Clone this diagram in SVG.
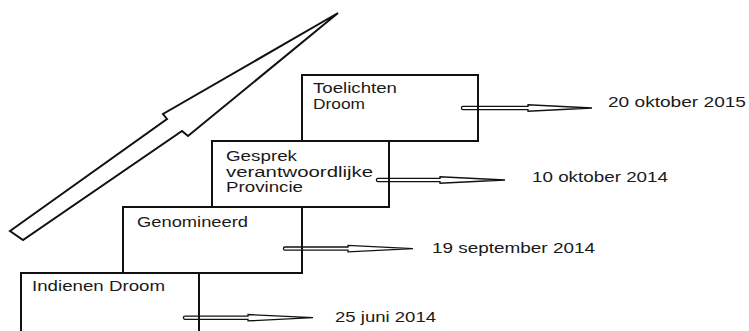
<svg xmlns="http://www.w3.org/2000/svg" width="749" height="331" viewBox="0 0 749 331">
<style>
text{font-family:"Liberation Sans",Arial,Helvetica,sans-serif;font-size:14px;fill:#1a1a1a}
.box{fill:none;stroke:#111;stroke-width:2}
.arr{fill:#fff;stroke:#111;stroke-width:1.3;stroke-linejoin:miter}
.big{fill:#fff;stroke:#111;stroke-width:2;stroke-linejoin:miter}
</style>
<rect width="749" height="331" fill="#fff"/>
<g id="big-arrow">
<path class="big" d="M10,231 L167,119 L163,114 L338,13 L188,136 L182,131 L23,240 Z"/>
</g>
<g id="connectors">
<path class="arr" d="M463,106.4 H528 V104.8 L592,108 L528,111.2 V109.6 H463 A1.6,1.6 0 0 1 463,106.4 Z"/>
<path class="arr" d="M378,178.4 H440 V176.8 L505,180 L440,183.2 V181.6 H378 A1.6,1.6 0 0 1 378,178.4 Z"/>
<path class="arr" d="M285,247 H348 V245.4 L413,248.6 L348,251.8 V250.2 H285 A1.6,1.6 0 0 1 285,247 Z"/>
<path class="arr" d="M185,316.1 H248 V314.5 L313,317.7 L248,320.9 V319.3 H185 A1.6,1.6 0 0 1 185,316.1 Z"/>
</g>
<g id="toelichten">
<rect class="box" x="302" y="75" width="176" height="66"/>
<text x="313" y="92.5" textLength="84" lengthAdjust="spacingAndGlyphs">Toelichten</text>
<text x="313" y="108.5" textLength="52" lengthAdjust="spacingAndGlyphs">Droom</text>
</g>
<g id="gesprek">
<rect class="box" x="212" y="141" width="177" height="66"/>
<text x="226" y="161" textLength="71" lengthAdjust="spacingAndGlyphs">Gesprek</text>
<text x="226" y="176.5" textLength="147" lengthAdjust="spacingAndGlyphs">verantwoordlijke</text>
<text x="226" y="192" textLength="77" lengthAdjust="spacingAndGlyphs">Provincie</text>
</g>
<g id="genomineerd">
<rect class="box" x="123" y="207" width="179" height="66"/>
<text x="137" y="226.5" textLength="111" lengthAdjust="spacingAndGlyphs">Genomineerd</text>
</g>
<g id="indienen">
<path class="box" d="M21,335 V273 H199 V335"/>
<text x="32" y="291" textLength="133" lengthAdjust="spacingAndGlyphs">Indienen Droom</text>
</g>
<g id="dates">
<text x="608" y="106.5" textLength="138" lengthAdjust="spacingAndGlyphs">20 oktober 2015</text>
<text x="532" y="181.5" textLength="136" lengthAdjust="spacingAndGlyphs">10 oktober 2014</text>
<text x="432" y="252.5" textLength="163" lengthAdjust="spacingAndGlyphs">19 september 2014</text>
<text x="335" y="321.5" textLength="101" lengthAdjust="spacingAndGlyphs">25 juni 2014</text>
</g>
</svg>
